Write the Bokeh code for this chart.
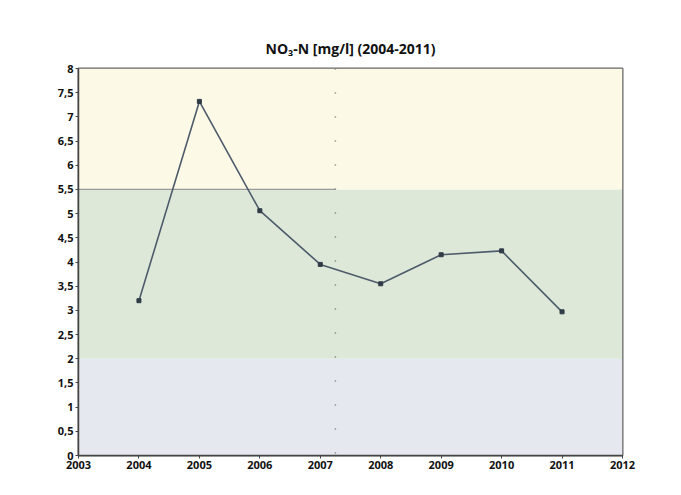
from bokeh.plotting import figure
from bokeh.models import FixedTicker, Range1d, BoxAnnotation, Span
from bokeh.embed import file_html
from bokeh.resources import INLINE

years = [2004, 2005, 2006, 2007, 2008, 2009, 2010, 2011]
no3n = [3.2, 7.32, 5.06, 3.95, 3.55, 4.15, 4.23, 2.97]
x_ticks = [2003, 2004, 2005, 2006, 2007, 2008, 2009, 2010, 2011, 2012]
y_ticks = [0, 0.5, 1, 1.5, 2, 2.5, 3, 3.5, 4, 4.5, 5, 5.5, 6, 6.5, 7, 7.5, 8]
y_labels = ["0", "0,5", "1", "1,5", "2", "2,5", "3", "3,5", "4", "4,5",
            "5", "5,5", "6", "6,5", "7", "7,5", "8"]
bands = [(0, 2, "#e5e8ee"), (2, 5.5, "#dde8d9"), (5.5, 8, "#fcf9e6")]
split_year = 2007.25
threshold = 5.5

p = figure(width=665, height=479, output_backend="svg", toolbar_location=None,
           x_range=Range1d(2003, 2012), y_range=Range1d(0, 8),
           min_border_left=78, min_border_right=43, min_border_top=68,
           min_border_bottom=24)

p.title.text = "NO\u2083-N [mg/l] (2004-2011)"
p.title.align = "center"
p.title.text_font = "Open Sans"
p.title.text_font_size = "14px"
p.title.text_font_style = "bold"
p.title.text_color = "#111111"
p.title.standoff = 21

# page decoration: grey header strip and panel border
p.add_layout(BoxAnnotation(left=0, right=665, top=0, bottom=6,
                           left_units="canvas", right_units="canvas",
                           top_units="canvas", bottom_units="canvas",
                           fill_color="#d9d9d9", fill_alpha=1.0, line_alpha=0))
p.add_layout(BoxAnnotation(left=8, right=700, top=10, bottom=600,
                           left_units="canvas", right_units="canvas",
                           top_units="canvas", bottom_units="canvas",
                           fill_alpha=0, line_color="#c4c4c4", line_width=1.5))

for lo, hi, col in bands:
    p.add_layout(BoxAnnotation(bottom=lo, top=hi, fill_color=col, fill_alpha=1.0,
                               line_alpha=0, level="underlay"))

p.line([2003, split_year], [threshold, threshold], line_color="#9a9a9a", line_width=1.2)
p.add_layout(Span(location=split_year, dimension="height", line_color="#666666",
                  line_width=1.5, line_dash="1 23"))

p.line(years, no3n, line_color="#4d5b6b", line_width=1.6)
p.scatter(years, no3n, marker="square", size=4, fill_color="#2f3b47",
          line_color="#2f3b47")

p.xgrid.visible = False
p.ygrid.visible = False
p.outline_line_color = "#666666"
p.outline_line_width = 2
p.background_fill_color = "white"

p.xaxis.ticker = FixedTicker(ticks=x_ticks)
p.yaxis.ticker = FixedTicker(ticks=y_ticks)
p.yaxis.major_label_overrides = {t: l for t, l in zip(y_ticks, y_labels)}
for ax in (p.xaxis[0], p.yaxis[0]):
    ax.axis_line_color = "#444444"
    ax.axis_line_width = 1.5
    ax.major_tick_line_color = "#444444"
    ax.major_tick_out = 3
    ax.major_tick_in = 0
    ax.minor_tick_line_color = None
    ax.major_label_text_font = "Open Sans"
    ax.major_label_text_font_style = "bold"
    ax.major_label_text_font_size = "11px"
    ax.major_label_text_color = "#111111"
    ax.major_label_standoff = 2

open("out.html", "w").write(file_html(p, INLINE))
